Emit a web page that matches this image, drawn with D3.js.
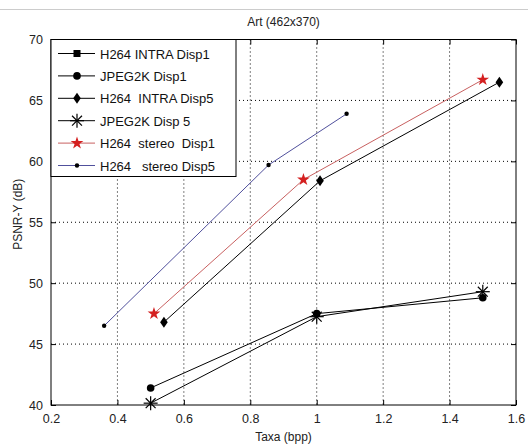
<!DOCTYPE html>
<html>
<head>
<meta charset="utf-8">
<script src="https://cdn.jsdelivr.net/npm/d3@7"></script>
<style>
  body { margin: 0; background: #fff; }
  text { font-family: "Liberation Sans", Arial, sans-serif; }
</style>
</head>
<body>
<script>
  // values
  const title = "Art (462x370)";
  const xTicks = [0.2, 0.4, 0.6, 0.8, 1, 1.2, 1.4, 1.6];
  const yTicks = [40, 45, 50, 55, 60, 65, 70];

  const h264IntraDisp1 = []; // no visible points, legend only
  const jpeg2kDisp1 = [[0.5, 41.4], [1.0, 47.5], [1.5, 48.8]];
  const h264IntraDisp5 = [[0.54, 46.8], [1.01, 58.4], [1.55, 66.5]];
  const jpeg2kDisp5 = [[0.5, 40.15], [1.0, 47.25], [1.5, 49.3]];
  const h264StereoDisp1 = [[0.51, 47.5], [0.96, 58.5], [1.5, 66.7]];
  const h264StereoDisp5 = [[0.36, 46.5], [0.855, 59.7], [1.09, 63.9]];

  const series = [
    { name: "H264 INTRA Disp1", data: h264IntraDisp1, line: "#000", marker: "square", mcolor: "#000" },
    { name: "JPEG2K Disp1", data: jpeg2kDisp1, line: "#000", marker: "circle", mcolor: "#000" },
    { name: "H264  INTRA Disp5", data: h264IntraDisp5, line: "#000", marker: "diamond", mcolor: "#000" },
    { name: "JPEG2K Disp 5", data: jpeg2kDisp5, line: "#000", marker: "asterisk", mcolor: "#000" },
    { name: "H264  stereo  Disp1", data: h264StereoDisp1, line: "#c86060", marker: "star", mcolor: "#d42020" },
    { name: "H264   stereo Disp5", data: h264StereoDisp5, line: "#50509c", marker: "dot", mcolor: "#000" }
  ];

  const width = 528, height = 444;
  const mLeft = 51, mRight = 516, mTop = 39.5, mBottom = 405;

  const svg = d3.select("body").append("svg")
    .attr("width", width)
    .attr("height", height);

  // thin gray rule at the top of the screenshot
  svg.append("line")
    .attr("x1", 0).attr("x2", width).attr("y1", 9.5).attr("y2", 9.5)
    .attr("stroke", "#ccc");

  const x = d3.scaleLinear().domain([0.2, 1.6]).range([mLeft, mRight]);
  const y = d3.scaleLinear().domain([40, 70]).range([mBottom, mTop]);

  // dotted grid
  const grid = svg.append("g").attr("stroke", "#000").attr("stroke-dasharray", "1,3").attr("stroke-width", 1);
  xTicks.slice(1, -1).forEach(t => {
    grid.append("line").attr("x1", x(t)).attr("x2", x(t)).attr("y1", mTop).attr("y2", mBottom);
  });
  yTicks.slice(1, -1).forEach(t => {
    grid.append("line").attr("x1", mLeft).attr("x2", mRight).attr("y1", y(t)).attr("y2", y(t));
  });

  // axes with inward ticks
  const fmt = d => String(d);
  svg.append("g").attr("transform", `translate(0,${mBottom})`)
    .call(d3.axisBottom(x).tickValues(xTicks).tickFormat(fmt).tickSizeInner(-5).tickSizeOuter(0).tickPadding(9));
  svg.append("g").attr("transform", `translate(0,${mTop})`)
    .call(d3.axisTop(x).tickValues(xTicks).tickFormat("").tickSizeInner(-5).tickSizeOuter(0));
  svg.append("g").attr("transform", `translate(${mLeft},0)`)
    .call(d3.axisLeft(y).tickValues(yTicks).tickFormat(fmt).tickSizeInner(-5).tickSizeOuter(0).tickPadding(8));
  svg.append("g").attr("transform", `translate(${mRight},0)`)
    .call(d3.axisRight(y).tickValues(yTicks).tickFormat("").tickSizeInner(-5).tickSizeOuter(0));
  svg.selectAll(".domain").remove();
  svg.selectAll(".tick text").attr("font-size", 12.5).attr("fill", "#222")
    .attr("font-family", "'Liberation Sans', Arial, sans-serif");

  svg.append("rect")
    .attr("x", mLeft).attr("y", mTop)
    .attr("width", mRight - mLeft).attr("height", mBottom - mTop)
    .attr("fill", "none").attr("stroke", "#000");

  // titles
  svg.append("text").attr("x", (mLeft + mRight) / 2).attr("y", 26)
    .attr("text-anchor", "middle").attr("font-size", 12).attr("fill", "#222").text(title);
  svg.append("text").attr("x", (mLeft + mRight) / 2).attr("y", 441)
    .attr("text-anchor", "middle").attr("font-size", 12).attr("fill", "#222").text("Taxa (bpp)");
  svg.append("text")
    .attr("transform", `translate(22,${(mTop + mBottom) / 2 - 8}) rotate(-90)`)
    .attr("text-anchor", "middle").attr("font-size", 12).attr("fill", "#222").text("PSNR-Y (dB)");

  // marker drawing
  function drawMarker(g, type, color) {
    if (type === "square") {
      g.append("rect").attr("x", -3.5).attr("y", -3.5).attr("width", 7).attr("height", 7).attr("fill", color);
    } else if (type === "circle") {
      g.append("circle").attr("r", 3.8).attr("fill", color);
    } else if (type === "diamond") {
      g.append("path").attr("d", "M0,-5.5L3.8,0L0,5.5L-3.8,0Z").attr("fill", color);
    } else if (type === "asterisk") {
      const r = 7;
      [0, 45, 90, 135].forEach(a => {
        const rad = a * Math.PI / 180;
        g.append("line")
          .attr("x1", -r * Math.cos(rad)).attr("y1", -r * Math.sin(rad))
          .attr("x2", r * Math.cos(rad)).attr("y2", r * Math.sin(rad))
          .attr("stroke", color).attr("stroke-width", 1.2);
      });
    } else if (type === "star") {
      g.append("path").attr("d", d3.symbol().type(d3.symbolStar).size(50)).attr("fill", color);
    } else if (type === "dot") {
      g.append("circle").attr("r", 2.2).attr("fill", color);
    }
  }

  const line = d3.line().x(d => x(d[0])).y(d => y(d[1]));

  series.forEach(s => {
    if (!s.data.length) return;
    svg.append("path").datum(s.data)
      .attr("d", line).attr("fill", "none")
      .attr("stroke", s.line).attr("stroke-width", 1);
    s.data.forEach(d => {
      const g = svg.append("g").attr("transform", `translate(${x(d[0])},${y(d[1])})`);
      drawMarker(g, s.marker, s.mcolor);
    });
  });

  // legend
  const lg = svg.append("g");
  lg.append("rect")
    .attr("x", mLeft).attr("y", mTop).attr("width", 185).attr("height", 137)
    .attr("fill", "#fff").attr("stroke", "#000");
  series.forEach((s, i) => {
    const ly = mTop + 14 + i * 22.4;
    lg.append("line").attr("x1", mLeft + 7).attr("x2", mLeft + 44).attr("y1", ly).attr("y2", ly)
      .attr("stroke", s.line).attr("stroke-width", 1);
    const g = lg.append("g").attr("transform", `translate(${mLeft + 26},${ly})`);
    drawMarker(g, s.marker, s.mcolor);
    lg.append("text").attr("x", mLeft + 49).attr("y", ly + 5)
      .attr("font-size", 13).attr("fill", "#111")
      .attr("xml:space", "preserve").style("white-space", "pre")
      .text(s.name);
  });
</script>
</body>
</html>
